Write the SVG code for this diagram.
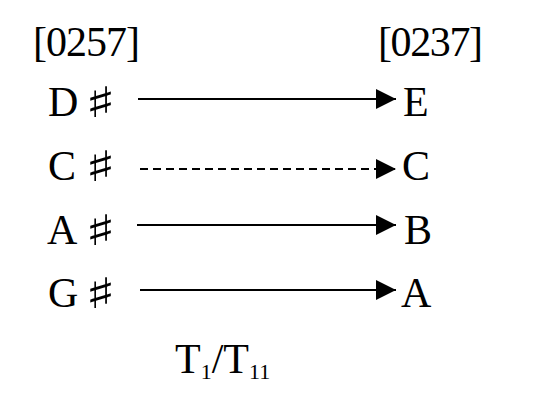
<svg xmlns="http://www.w3.org/2000/svg" width="536" height="412" viewBox="0 0 536 412">
<style>
text{font-family:"Liberation Serif","DejaVu Serif",serif;font-size:42px;fill:#000}
.sh{font-family:"DejaVu Sans","Noto Sans",sans-serif;font-size:42px}
.c{stroke:#000;stroke-width:2;fill:none}
.d{stroke-dasharray:8 5}
.sub{font-size:22px}
</style>
<defs>
<marker id="ah" viewBox="0 0 20 20" refX="20" refY="10" markerWidth="20" markerHeight="20" markerUnits="userSpaceOnUse" orient="auto">
<path d="M0,0 L20,10 L0,20 Z" fill="#000"/>
</marker>
</defs>
<g id="headers">
<text x="33" y="56" textLength="107">[0257]</text>
<text x="378" y="56" textLength="105">[0237]</text>
</g>
<g id="node-Dsharp"><text x="48" y="116">D</text><text class="sh" transform="translate(85,117) scale(1.55,1)">♯</text></g>
<g id="node-Csharp"><text x="48" y="180">C</text><text class="sh" transform="translate(85,181) scale(1.55,1)">♯</text></g>
<g id="node-Asharp"><text x="47" y="244">A</text><text class="sh" transform="translate(85,245) scale(1.55,1)">♯</text></g>
<g id="node-Gsharp"><text x="48" y="307">G</text><text class="sh" transform="translate(85,308) scale(1.55,1)">♯</text></g>
<g id="node-E"><text x="403" y="116">E</text></g>
<g id="node-C"><text x="402" y="180">C</text></g>
<g id="node-B"><text x="404" y="244">B</text></g>
<g id="node-A"><text x="401" y="307">A</text></g>
<g id="connectors">
<line class="c" x1="138" y1="99" x2="396" y2="99" marker-end="url(#ah)"/>
<line class="c d" x1="140" y1="169" x2="396" y2="169" marker-end="url(#ah)"/>
<line class="c" x1="137" y1="225" x2="396" y2="225" marker-end="url(#ah)"/>
<line class="c" x1="140" y1="290" x2="396" y2="290" marker-end="url(#ah)"/>
</g>
<g id="label"><text x="175" y="373">T<tspan class="sub" dy="6">1</tspan><tspan dy="-6">/T</tspan><tspan class="sub" dy="6">11</tspan></text></g>
</svg>
